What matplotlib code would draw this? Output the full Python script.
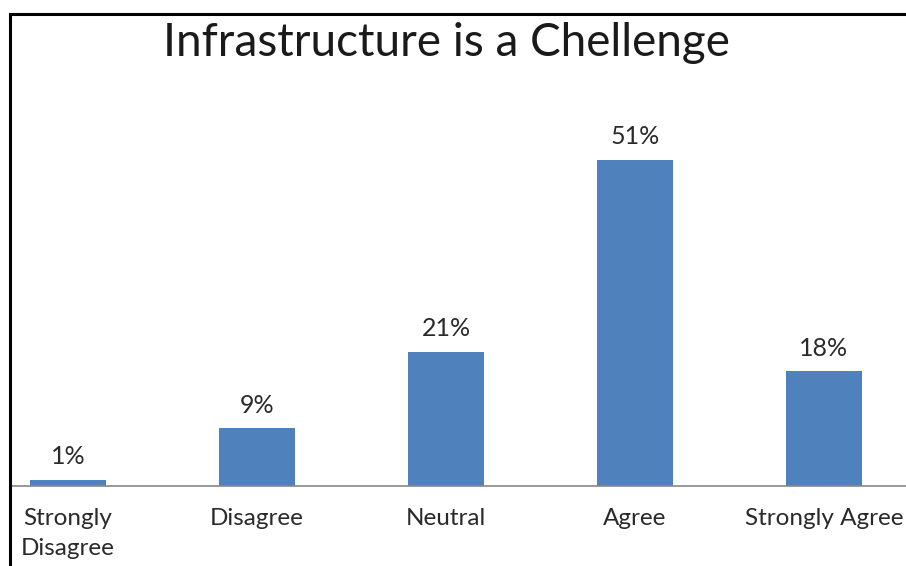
import matplotlib.pyplot as plt
from matplotlib.lines import Line2D

categories = ['Strongly\nDisagree', 'Disagree', 'Neutral', 'Agree', 'Strongly Agree']
values = [1, 9, 21, 51, 18]
value_labels = ['1%', '9%', '21%', '51%', '18%']

W, H = 906, 566
plt.rcParams['font.family'] = ['Lato', 'DejaVu Sans']
fig = plt.figure(figsize=(W / 100, H / 100), dpi=100)

# axes: left edge at the frame, baseline at y=486 px from top
ax = fig.add_axes([11 / W, 80 / H, (W - 11) / W, 472 / H])
x = list(range(len(categories)))
ax.bar(x, values, width=0.4, color='#4F81BD')
ax.set_xlim((11 - 68) / 189, (W - 68) / 189)
ax.set_ylim(0, 472 / 6.4)

for xi, v, lab in zip(x, values, value_labels):
    ax.annotate(lab, (xi, v), xytext=(0, 8), textcoords='offset points',
                ha='center', va='bottom', fontsize=18, color='#2a2a2a')

ax.set_xticks(x)
ax.set_xticklabels(categories, fontsize=17.5, color='#2a2a2a', linespacing=1.5)
ax.tick_params(axis='x', length=0, pad=16)
ax.set_yticks([])
for s in ['top', 'right', 'left']:
    ax.spines[s].set_visible(False)
ax.spines['bottom'].set_color('#888888')
ax.spines['bottom'].set_linewidth(1.2)

fig.text(446 / W, 1 - 43 / H, 'Infrastructure is a Chellenge', ha='center', va='center',
         fontsize=33, color='#1a1a1a')

# outer frame (cropped on right and bottom)
fig.add_artist(Line2D([10 / W, 10 / W], [0, 1 - 14 / H], transform=fig.transFigure, color='black', lw=2.2))
fig.add_artist(Line2D([10 / W, 1], [1 - 14 / H, 1 - 14 / H], transform=fig.transFigure, color='black', lw=2.2))

fig.savefig('out.png', dpi=100)
